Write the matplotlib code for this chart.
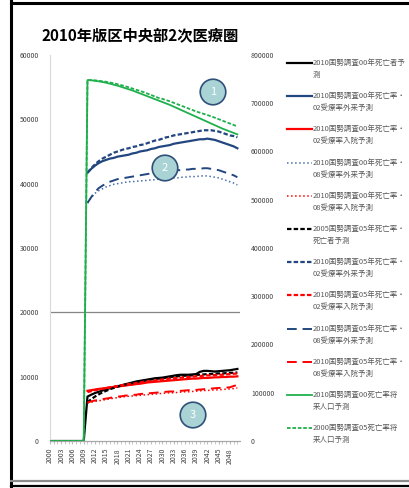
import numpy as np
import matplotlib
matplotlib.use("Agg")
import matplotlib.pyplot as plt
from matplotlib.lines import Line2D

plt.rcParams['font.family'] = ['Noto Sans CJK JP', 'DejaVu Sans']

years = list(range(2000, 2051))
pre = [0] * 10          # 2000-2009
gap = [np.nan] * 10     # no projection before 2010

# deaths / patients per year (left axis), 2010-2050
death_00 = pre + [6900, 7200, 7450, 7650, 7850, 8050, 8200, 8350, 8500, 8650,
                  8800, 8950, 9100, 9250, 9350, 9450, 9550, 9650, 9750, 9800,
                  9850, 9950, 10050, 10150, 10250, 10300, 10300, 10300, 10350, 10400,
                  10750, 10900, 10900, 10850, 10800, 10850, 10900, 10950, 11000, 11100,
                  11200]
out_00_02 = gap + [41700, 42300, 42800, 43200, 43500, 43700, 43900, 44000, 44200, 44300,
                   44400, 44500, 44700, 44800, 45000, 45100, 45200, 45400, 45500, 45700,
                   45800, 45900, 46000, 46200, 46300, 46400, 46500, 46600, 46700, 46800,
                   46900, 46900, 47000, 46900, 46800, 46600, 46400, 46200, 46000, 45800,
                   45500]
inp_00_02 = gap + [7800, 7900, 8000, 8100, 8150, 8250, 8300, 8400, 8450, 8550,
                   8600, 8700, 8750, 8850, 8900, 9000, 9100, 9150, 9200, 9250,
                   9300, 9350, 9400, 9450, 9500, 9550, 9600, 9650, 9700, 9700,
                   9750, 9800, 9800, 9850, 9900, 9900, 9950, 9950, 10000, 10000,
                   10050]
out_00_08 = gap + [37000, 37800, 38500, 38900, 39200, 39500, 39700, 39900, 40000, 40100,
                   40200, 40300, 40300, 40400, 40400, 40500, 40500, 40600, 40600, 40700,
                   40700, 40800, 40800, 40900, 40900, 41000, 41000, 41100, 41100, 41100,
                   41200, 41200, 41200, 41100, 41000, 40900, 40700, 40500, 40300, 40100,
                   39800]
inp_00_08 = gap + [5900, 6050, 6150, 6250, 6350, 6450, 6550, 6650, 6750, 6800,
                   6900, 6950, 7000, 7050, 7100, 7150, 7200, 7250, 7300, 7350,
                   7400, 7450, 7500, 7500, 7550, 7600, 7650, 7650, 7700, 7750,
                   7800, 7850, 7850, 7900, 7950, 7950, 8000, 8050, 8100, 8150,
                   8250]
death_05 = gap + [6000, 6500, 6900, 7250, 7550, 7800, 8050, 8250, 8450, 8600,
                  8750, 8900, 9000, 9150, 9250, 9350, 9450, 9550, 9600, 9700,
                  9750, 9850, 9900, 10000, 10050, 10100, 10150, 10150, 10200, 10250,
                  10300, 10350, 10400, 10400, 10450, 10500, 10500, 10550, 10600, 10600,
                  10650]
out_05_02 = gap + [41700, 42400, 43000, 43500, 43900, 44200, 44500, 44800, 45000, 45200,
                   45400, 45500, 45700, 45800, 46000, 46100, 46300, 46500, 46700, 46800,
                   47000, 47200, 47300, 47500, 47600, 47700, 47800, 47900, 48000, 48100,
                   48200, 48300, 48300, 48300, 48200, 48100, 47900, 47700, 47500, 47400,
                   47200]
inp_05_02 = gap + [7600, 7750, 7900, 8000, 8100, 8250, 8350, 8450, 8550, 8650,
                   8750, 8850, 8900, 9000, 9100, 9200, 9250, 9350, 9400, 9500,
                   9550, 9600, 9700, 9750, 9800, 9850, 9900, 9950, 10000, 10050,
                   10100, 10150, 10200, 10200, 10250, 10300, 10300, 10350, 10400, 10450,
                   10500]
out_05_08 = gap + [37000, 37900, 38700, 39300, 39700, 40000, 40300, 40500, 40700, 40800,
                   40900, 41000, 41100, 41200, 41300, 41400, 41500, 41600, 41700, 41800,
                   41800, 41900, 42000, 42000, 42100, 42100, 42200, 42200, 42300, 42300,
                   42300, 42400, 42400, 42300, 42200, 42100, 41900, 41700, 41500, 41300,
                   41000]
inp_05_08 = gap + [6000, 6150, 6300, 6400, 6500, 6600, 6700, 6800, 6900, 6950,
                   7050, 7100, 7150, 7200, 7300, 7350, 7400, 7450, 7500, 7550,
                   7600, 7650, 7700, 7700, 7750, 7800, 7850, 7900, 7950, 7950,
                   8000, 8050, 8100, 8150, 8200, 8250, 8250, 8300, 8350, 8550,
                   8700]

# population (right axis)
pop_00 = pre + [748000, 747500, 746500, 745500, 744000, 742500, 740500, 738500, 736500, 734000,
                731500, 729000, 726500, 723500, 720500, 717500, 714500, 711500, 708500, 705500,
                702500, 699500, 696500, 693000, 689500, 686000, 682500, 679000, 675500, 672000,
                668500, 665000, 661500, 658000, 654500, 651000, 647500, 644500, 641500, 638500,
                635500]
pop_05 = pre + [748000, 748000, 747500, 746500, 745500, 744500, 743000, 741500, 739500, 737500,
                735500, 733000, 730500, 728000, 725500, 723000, 720000, 717000, 714000, 711000,
                709000, 706500, 704000, 701000, 698000, 695000, 692000, 689000, 686000, 683000,
                680500, 678000, 675500, 673000, 670000, 667000, 664000, 661000, 658000, 655000,
                652000]

labels = [
    ("2010国勢調査00年死亡者予", "測"),
    ("2010国勢調査00年死亡率・", "02受療率外来予測"),
    ("2010国勢調査00年死亡率・", "02受療率入院予測"),
    ("2010国勢調査00年死亡率・", "08受療率外来予測"),
    ("2010国勢調査00年死亡率・", "08受療率入院予測"),
    ("2005国勢調査05年死亡率・", "死亡者予測"),
    ("2010国勢調査05年死亡率・", "02受療率外来予測"),
    ("2010国勢調査05年死亡率・", "02受療率入院予測"),
    ("2010国勢調査05年死亡率・", "08受療率外来予測"),
    ("2010国勢調査05年死亡率・", "08受療率入院予測"),
    ("2010国勢調査00死亡率将", "来人口予測"),
    ("2000国勢調査05死亡率将", "来人口予測"),
]

NAVY = '#22467f'
BLUE = '#4a6fae'
RED = '#ff0000'
GREEN = '#1fb04c'
SHORT = (0, (2, 1))
LONG = (0, (5, 3))

# (values, colour, linestyle, width, right axis?)
series = [
    (death_00, 'black', '-', 1.6, False),
    (out_00_02, NAVY, '-', 1.6, False),
    (inp_00_02, RED, '-', 1.6, False),
    (out_00_08, BLUE, ':', 1.1, False),
    (inp_00_08, RED, ':', 1.1, False),
    (death_05, 'black', SHORT, 1.6, False),
    (out_05_02, NAVY, SHORT, 1.6, False),
    (inp_05_02, RED, SHORT, 1.6, False),
    (out_05_08, NAVY, LONG, 1.4, False),
    (inp_05_08, RED, LONG, 1.4, False),
    (pop_00, GREEN, '-', 1.3, True),
    (pop_05, GREEN, SHORT, 1.3, True),
]

fig = plt.figure(figsize=(4.1, 4.88), dpi=100)
ax = fig.add_axes([50/410, 1 - 441/488, 190/410, 386/488])
ax2 = ax.twinx()

for vals, col, ls, lw, right in series:
    target = ax2 if right else ax
    target.plot(years, vals, color=col, linestyle=ls, linewidth=lw)

ax.set_xlim(2000, 2050.7)
ax.set_ylim(0, 60000)
ax2.set_ylim(0, 800000)
ax.set_yticks(range(0, 60001, 10000))
ax2.set_yticks(range(0, 800001, 100000))
ax.set_xticks(years[::3])
ax.set_xticks(years, minor=True)
ax.set_xticklabels([str(y) for y in years[::3]], rotation=90)

ax.axhline(20000, color='#868686', lw=0.9, zorder=0)

for a in (ax, ax2):
    for s in ('top', 'right', 'left'):
        a.spines[s].set_visible(False)
    a.spines['bottom'].set_color('#a6a6a6')
    a.tick_params(axis='y', length=0, labelsize=5, labelcolor='#404040')
ax.spines['left'].set_visible(True)
ax.spines['left'].set_color('#d9d9d9')
ax.tick_params(axis='y', pad=8)
ax2.tick_params(axis='y', pad=8)
ax.tick_params(axis='x', which='both', length=2, color='#bfbfbf', labelsize=5,
               labelcolor='#404040', pad=3)

fig.text(42/410, 1 - 35/488, '2010年版区中央部2次医療圏', fontsize=11,
         fontweight='bold', va='center', ha='left')

# numbered markers
for num, (cx, cy) in zip(['1', '2', '3'], [(213, 92), (165, 168), (193, 415)]):
    fig.text(cx/410, 1 - cy/488, num, fontsize=8, color='white', ha='center', va='center',
             bbox=dict(boxstyle='circle,pad=0.7', fc='#a9d3d4', ec='#2e5079', lw=1.2))

# legend drawn to the right of the plot
for i, ((vals, col, ls, lw, right), (l1, l2)) in enumerate(zip(series, labels)):
    y = 63 + 33.2 * i
    fig.add_artist(Line2D([287/410, 312/410], [1 - y/488] * 2, transform=fig.transFigure,
                          color=col, linestyle=ls, linewidth=lw))
    fig.text(313/410, 1 - y/488, l1, fontsize=5.4, color='#595959', va='center')
    fig.text(313/410, 1 - (y + 12)/488, l2, fontsize=5.4, color='#595959', va='center')

# outer frame
fig.add_artist(Line2D([11/410, 11/410], [0, 1], transform=fig.transFigure, color='black', lw=2.2))
fig.add_artist(Line2D([11/410, 1], [1 - 3/488] * 2, transform=fig.transFigure, color='black', lw=2.2))
fig.add_artist(Line2D([11/410, 1], [1 - 481/488] * 2, transform=fig.transFigure, color='#8c8c8c', lw=1.6))
fig.add_artist(Line2D([11/410, 1], [1 - 486/488] * 2, transform=fig.transFigure, color='black', lw=1.6))

fig.savefig('out.png', dpi=100)
